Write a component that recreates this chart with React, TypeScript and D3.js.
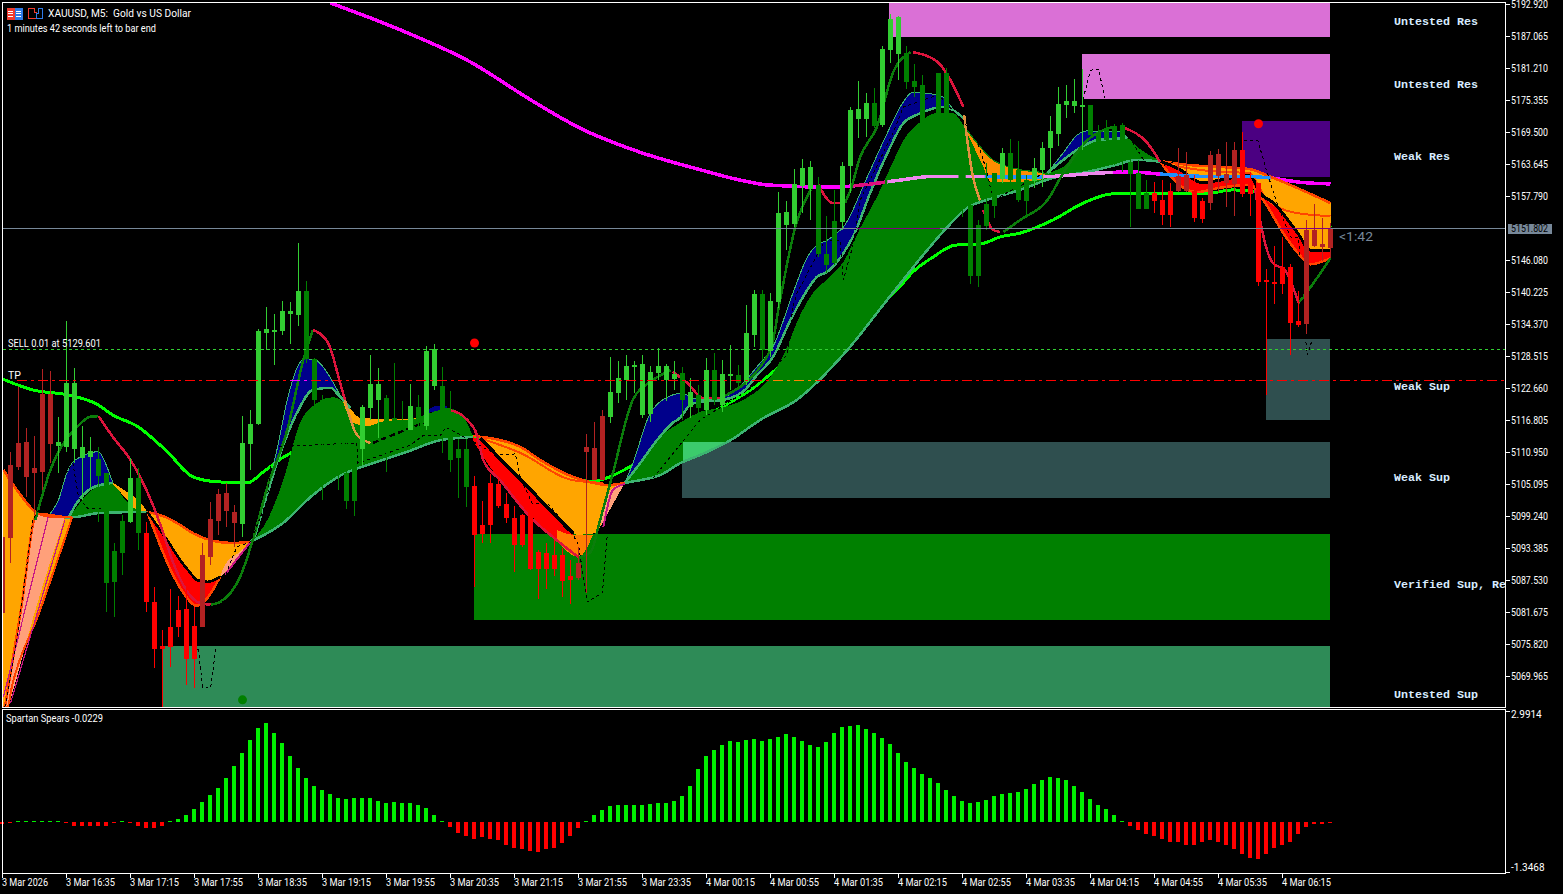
import React from "react";
import * as d3 from "d3";

type Knot = [number, number];

// ---------- axis labels ----------
const priceTicks = [5192.92, 5187.065, 5181.21, 5175.355, 5169.5, 5163.645, 5157.79, 5146.08, 5140.225, 5134.37, 5128.515, 5122.66, 5116.805, 5110.95, 5105.095, 5099.24, 5093.385, 5087.53, 5081.675, 5075.82, 5069.965];
const timeLabels = ["3 Mar 2026", "3 Mar 16:35", "3 Mar 17:15", "3 Mar 17:55", "3 Mar 18:35", "3 Mar 19:15", "3 Mar 19:55", "3 Mar 20:35", "3 Mar 21:15", "3 Mar 21:55", "3 Mar 23:35", "4 Mar 00:15", "4 Mar 00:55", "4 Mar 01:35", "4 Mar 02:15", "4 Mar 02:55", "4 Mar 03:35", "4 Mar 04:15", "4 Mar 04:55", "4 Mar 05:35", "4 Mar 06:15"];

// ---------- candles ----------
const candleHigh = [5096.7,5111.0,5122.8,5115.3,5113.9,5126.1,5125.8,5117.4,5134.9,5126.3,
5115.7,5113.7,5111.9,5107.1,5094.3,5099.4,5109.9,5108.0,5098.1,5086.3,
5078.4,5085.9,5084.6,5086.3,5082.6,5094.3,5101.8,5104.2,5105.3,5101.3,
5117.5,5118.6,5133.5,5137.5,5136.2,5138.6,5138.4,5149.2,5142.2,5128.2,
5121.4,5118.6,5115.9,5113.1,5113.1,5119.6,5128.7,5126.3,5121.4,5127.2,
5120.3,5123.4,5121.4,5130.3,5130.7,5126.5,5122.1,5113.3,5113.3,5106.6,
5102.0,5106.9,5106.2,5103.5,5101.1,5099.6,5100.7,5093.0,5094.3,5094.9,
5093.4,5091.2,5093.6,5114.2,5116.4,5118.6,5128.3,5127.6,5128.7,5127.6,
5128.7,5126.7,5130.0,5127.1,5127.6,5126.5,5124.5,5123.2,5128.2,5129.1,
5127.8,5130.5,5126.9,5137.8,5140.6,5140.6,5140.0,5158.5,5156.9,5162.7,
5164.6,5164.2,5161.3,5154.1,5158.9,5164.0,5174.1,5178.8,5176.6,5177.6,
5185.2,5191.1,5190.7,5185.2,5181.9,5179.9,5170.2,5180.3,5181.2,5170.8,
5170.8,5157.0,5153.4,5163.8,5162.0,5166.6,5168.2,5167.9,5161.6,5164.7,
5167.7,5172.4,5177.7,5178.1,5179.2,5181.0,5174.4,5170.8,5171.7,5171.0,
5171.1,5168.0,5164.4,5160.7,5160.4,5160.7,5160.2,5166.6,5165.8,5161.6,
5157.4,5166.0,5166.4,5167.7,5167.7,5169.5,5162.2,5160.2,5144.4,5148.6,
5150.3,5145.4,5140.4,5153.4,5156.3,5153.8,5152.9];
const candleLow = [5080.2,5090.6,5107.7,5102.7,5099.4,5104.0,5108.9,5107.1,5111.0,5108.9,
5102.2,5104.0,5098.1,5081.7,5080.8,5088.4,5098.0,5093.0,5081.7,5071.4,
5064.3,5071.6,5077.1,5068.3,5067.8,5078.9,5090.3,5095.8,5097.2,5093.6,
5095.4,5107.7,5115.9,5129.6,5126.9,5132.4,5130.7,5134.0,5127.2,5119.6,
5102.2,5107.7,5104.0,5100.5,5099.2,5108.6,5116.8,5113.5,5107.3,5116.3,
5115.9,5115.0,5115.0,5115.0,5122.3,5110.8,5107.3,5102.5,5100.9,5086.3,
5094.3,5094.3,5100.7,5098.0,5089.0,5093.6,5089.4,5084.1,5085.9,5088.3,
5084.4,5083.1,5087.5,5085.2,5105.8,5105.8,5116.3,5119.9,5120.5,5121.8,
5117.2,5116.5,5124.1,5120.3,5122.3,5116.8,5117.2,5117.7,5117.7,5119.6,
5118.3,5122.3,5122.3,5123.2,5130.2,5127.8,5128.3,5137.3,5147.9,5152.1,
5154.7,5153.4,5146.6,5143.7,5145.2,5151.6,5158.3,5168.4,5168.6,5170.2,
5170.4,5182.1,5179.0,5177.4,5175.9,5171.2,5166.2,5171.7,5172.1,5164.4,
5154.0,5141.7,5141.1,5151.6,5153.8,5160.2,5160.2,5156.7,5154.0,5159.3,
5159.4,5162.0,5166.9,5172.1,5173.0,5166.2,5169.0,5167.1,5168.0,5163.5,
5162.2,5152.1,5155.4,5155.4,5154.7,5152.5,5152.1,5158.5,5158.5,5153.0,
5152.9,5155.2,5158.5,5155.8,5154.1,5157.6,5154.1,5141.3,5121.4,5138.0,
5139.9,5128.7,5133.8,5132.5,5148.5,5145.9,5146.5];
const bodyHigh = [5095.4,5108.6,5112.6,5112.8,5108.0,5121.6,5121.6,5112.8,5123.6,5123.6,
5111.9,5111.1,5109.7,5107.1,5092.8,5098.3,5106.2,5106.2,5096.1,5083.5,
5075.5,5078.9,5082.0,5082.2,5079.1,5092.1,5098.7,5103.3,5103.5,5100.0,
5112.6,5116.1,5133.1,5133.5,5133.3,5136.8,5136.8,5140.4,5140.4,5128.0,
5120.5,5117.2,5115.0,5107.1,5108.2,5119.2,5123.4,5123.4,5120.8,5117.2,
5116.8,5119.4,5119.2,5129.4,5129.8,5123.0,5113.7,5111.5,5111.5,5104.7,
5097.6,5105.3,5105.1,5101.4,5098.9,5099.4,5099.8,5092.7,5092.5,5092.1,
5092.1,5088.3,5090.6,5111.9,5111.7,5117.5,5121.9,5124.5,5126.7,5126.9,
5127.1,5125.6,5126.7,5126.7,5125.2,5125.4,5121.9,5121.4,5126.0,5126.0,
5125.2,5125.2,5125.0,5132.7,5139.9,5139.9,5138.6,5154.7,5154.9,5160.0,
5162.9,5163.1,5159.8,5147.2,5153.2,5163.3,5173.5,5173.7,5174.8,5174.8,
5184.7,5190.2,5190.5,5184.0,5178.8,5178.1,5169.9,5180.3,5180.3,5169.9,
5166.2,5156.1,5152.5,5156.3,5162.0,5165.7,5165.7,5162.6,5160.7,5162.9,
5166.6,5169.7,5174.6,5175.2,5175.2,5174.4,5174.4,5169.3,5170.2,5170.6,
5170.8,5164.0,5162.0,5158.3,5158.3,5157.1,5158.7,5161.4,5161.6,5158.7,
5156.9,5165.3,5165.5,5161.8,5166.2,5166.2,5160.2,5160.2,5142.4,5142.1,
5144.8,5144.8,5134.9,5151.6,5151.6,5149.0,5151.8];
const bodyLow = [5081.5,5095.2,5108.2,5106.4,5107.1,5107.3,5112.4,5112.0,5111.9,5111.5,
5109.9,5110.0,5106.6,5087.0,5087.2,5092.5,5098.1,5096.1,5083.5,5074.9,
5074.9,5075.3,5078.9,5073.1,5073.1,5078.9,5091.7,5098.3,5100.2,5098.0,
5097.8,5112.4,5116.1,5132.7,5133.1,5133.1,5136.2,5136.0,5128.0,5120.5,
5116.8,5115.0,5112.2,5102.0,5102.0,5111.5,5119.0,5120.5,5116.3,5116.5,
5116.1,5115.0,5116.3,5115.7,5123.0,5115.9,5109.5,5109.9,5104.6,5095.8,
5096.0,5097.6,5101.1,5098.9,5093.9,5093.9,5089.5,5089.5,5089.5,5089.5,
5087.4,5087.5,5087.9,5111.0,5105.8,5105.8,5117.4,5121.8,5124.1,5126.5,
5117.7,5117.9,5125.4,5124.1,5124.3,5120.5,5119.2,5119.0,5118.6,5120.5,
5119.6,5124.9,5123.6,5123.8,5132.4,5129.6,5129.4,5138.4,5152.5,5152.7,
5159.6,5159.1,5147.2,5145.2,5145.5,5153.0,5163.3,5171.9,5171.9,5170.6,
5170.8,5184.5,5183.8,5178.7,5177.7,5171.3,5167.1,5172.1,5172.6,5166.2,
5158.9,5143.2,5143.2,5152.3,5156.0,5160.9,5160.7,5157.1,5156.9,5160.5,
5162.6,5166.6,5169.1,5174.4,5174.3,5174.1,5169.0,5167.5,5168.0,5168.0,
5168.0,5161.8,5155.4,5155.4,5156.9,5154.3,5154.3,5158.7,5158.7,5153.8,
5153.6,5156.5,5161.4,5160.2,5160.0,5158.2,5158.2,5142.1,5142.1,5141.9,
5141.7,5134.6,5134.2,5134.4,5148.6,5148.5,5148.3];
// L bull up, G bull down, R bear down, F bear up
const candleKinds = "FFFFFFF LLLLL GGGG L G RRRRRRR FFFFF LLLLLLLL GGGGGGG LLL GGG L G LL GGGG RRRRRRRRRRRRR FFFF LLLLLLLLL G L G L G LL G LL G LLLLLL GGG LLLL G LLL GGGGGGGGGGGG L GGG LLLLLLL GGGGGGGG RRR FF RR FFFF RRRRRRRR FFFF".replace(/ /g, "");

// ---------- Spartan Spears histogram ----------
const spears = [-0.03,-0.02,0.01,0.01,0.01,0.05,0.015,0.01,-0.02,-0.09,
-0.1,-0.1,-0.1,-0.1,-0.02,0.01,-0.02,-0.1,-0.16,-0.16,
-0.1,0.015,0.08,0.19,0.35,0.53,0.72,0.91,1.17,1.49,
1.86,2.18,2.5,2.64,2.37,2.1,1.78,1.46,1.17,0.96,
0.85,0.75,0.64,0.61,0.64,0.64,0.64,0.56,0.51,0.53,
0.51,0.51,0.45,0.37,0.21,0.02,-0.13,-0.27,-0.35,-0.43,
-0.4,-0.43,-0.48,-0.61,-0.69,-0.72,-0.77,-0.8,-0.72,-0.67,
-0.56,-0.37,-0.16,0.05,0.19,0.32,0.43,0.45,0.45,0.45,
0.45,0.48,0.51,0.51,0.56,0.69,0.98,1.41,1.76,1.92,
2.05,2.16,2.13,2.18,2.21,2.16,2.21,2.26,2.34,2.26,
2.16,2.05,2.0,2.13,2.37,2.53,2.56,2.58,2.48,2.37,
2.24,2.08,1.84,1.62,1.44,1.28,1.17,1.04,0.85,0.69,
0.56,0.51,0.53,0.59,0.69,0.75,0.77,0.8,0.88,1.01,
1.12,1.2,1.17,1.12,0.96,0.8,0.61,0.45,0.35,0.19,
0.02,-0.1,-0.21,-0.32,-0.37,-0.45,-0.51,-0.51,-0.59,-0.61,
-0.53,-0.48,-0.53,-0.61,-0.72,-0.83,-0.96,-0.98,-0.83,-0.67,
-0.61,-0.51,-0.32,-0.13,-0.03,-0.03,-0.0229];

// ---------- supply / demand zones: [startBar, top, bottom] ----------
const zoneOrchid1: number[] = [110.9, 5193.1, 5186.9];
const zoneOrchid2: number[] = [135, 5183.8, 5175.5];
const zoneIndigo: number[] = [155, 5171.5, 5161.3];
const zoneSlate1: number[] = [158, 5131.6, 5116.8];
const zoneSlate2: number[] = [85, 5112.8, 5102.5];
const zoneGreen: number[] = [59, 5096.0, 5080.2];
const zoneSea: number[] = [20, 5075.5, 5064.3];

const zoneLabels: [string, number][] = [
  ["Untested Res", 5189.8], ["Untested Res", 5178.3], ["Weak Res", 5165.1], ["Weak Sup", 5123.0],
  ["Weak Sup", 5106.4], ["Verified Sup, Re", 5086.8], ["Untested Sup", 5066.7],
];

// ---------- moving averages ----------
const maSlow: Knot[] = [[41,5193.1],[49.7,5188.2],[58.5,5182.3],[66,5175.4],[72.2,5170.2],[79.7,5165.8],[87.2,5162.6],[92.2,5160.7],[95.7,5159.8],[103.5,5159.4],[109.7,5160.2],[112.2,5160.7],[116.6,5161.4],[119.7,5161.4],[124.7,5161.3],[129.7,5161.3],[137.2,5162],[141,5162.2],[144.7,5161.8],[149.7,5161.4],[154.7,5161.4],[158.5,5161.1],[162.2,5160.3],[166,5160]];
const maMid: Knot[] = [[0,5124.3],[3.8,5122.3],[8.1,5121.4],[11.8,5119.7],[13.8,5117.7],[16.8,5115.7],[20.6,5111],[23.8,5106.4],[26.8,5105.5],[30.6,5105.3],[32.6,5107.3],[35.1,5110],[42.2,5113.1],[49.7,5112.2],[55.9,5113.7],[58.8,5113.7],[64.7,5110.4],[73.5,5105.6],[79.3,5108.9],[82.2,5111.3],[87.2,5116.8],[93.5,5122.3],[99.7,5129.6],[106,5135.1],[111.8,5140.6],[113.8,5143.9],[116.3,5146.6],[119.1,5148.8],[122.2,5149],[124.7,5150.3],[127.2,5151],[131.3,5153.4],[135.1,5156.5],[138.8,5158.2],[143.8,5158.3],[150.6,5158.3],[153.8,5158.9],[156.3,5158.7],[161,5155.2],[166.1,5152.1]];

// trend line pieces
const trendUp: Knot[][] = [
  [[4.1,5098.5],[6,5107.7],[9.3,5115.5],[11,5117.4],[12,5117.5]],
  [[26,5083],[27.2,5083.5],[29.7,5088.1],[31.3,5094.9],[33.1,5104.5],[35.6,5115],[37.6,5127.8],[38.8,5133.3]],
  [[72,5091.7],[73.5,5092.6],[74.7,5098.5],[76.3,5107.1],[78.8,5120.5],[81.3,5124.1],[83.5,5125.9]],
  [[89.7,5120.8],[96,5129.6],[97.2,5138.8],[99.1,5152.1],[101,5158.9]],
  [[105.3,5156.5],[106,5158.9],[107.2,5164.9],[109.3,5170.4],[111.3,5180.3],[113.5,5184.1]],
  [[125.1,5151.2],[127.2,5153.4],[130.6,5157],[132.6,5162],[135.6,5168],[138.8,5170.4]],
  [[162,5138.2],[163.5,5141.1],[166,5146.4]],
];
const trendDown: Knot[][] = [
  [[12,5117.5],[13.8,5113.7],[16,5109.5],[17.2,5106.4],[18.7,5101.6],[20.1,5096.1],[21.2,5091.2],[24.7,5083.3],[26,5083]],
  [[38.8,5133.3],[40.7,5130.9],[42.2,5123.6],[42.8,5120.5]],
  [[56,5118.6],[58.1,5116.8],[59.3,5114.1],[60.1,5109.5],[62.2,5105.8],[66,5099],[69.3,5094.8],[72,5091.7]],
  [[83.8,5125.6],[85.6,5123.6],[87.6,5120.8],[89.7,5120.8]],
  [[102,5159.8],[103.8,5156.5],[105.3,5156.5]],
  [[113.8,5184.1],[116.9,5182.3],[118.5,5179],[120.1,5174.1]],
  [[122.6,5155.2],[123.8,5151.6],[124.7,5151.2]],
  [[140.3,5170.2],[143.1,5167.5],[144.7,5164]],
  [[156.6,5158.9],[157.2,5153.4],[158.8,5145.5],[160.3,5144.2],[162,5138.2]],
];
const trendTan: Knot[][] = [
  [[42.8,5120.5],[44.3,5114.1],[46,5112.6]],
  [[120.2,5172.6],[121.3,5161.3],[122.2,5157]],
];
const blackDashes: Knot[] = [[46.3,5112.6],[52.6,5116.3]];

const zigzag: Knot[] = [[0.3,5064.3],[1.8,5076.6],[3.8,5098.5],[4.3,5099.8],[8.8,5108.9],[9.5,5102.7],[10.6,5100.7],[12.2,5100.7],[13.5,5099.4],[24.5,5074.7],[25,5067.9],[26,5067.7],[26.7,5075.3],[28.1,5089.3],[29.3,5093.6],[31,5094.5],[33.1,5102.2],[33.7,5111.9],[44.3,5112.6],[44.4,5108.9],[51,5112.2],[52.6,5114],[54.7,5113.9],[55.4,5115.5],[58.5,5113.1],[61.8,5110.4],[64.1,5110.6],[64.7,5106.4],[66.2,5101.6],[68.1,5101.6],[71,5096.7],[72,5093.9],[73.1,5083.5],[75,5085.2],[75.6,5095.8],[87.2,5116.8],[93.7,5122.7],[98.1,5128.7],[98.8,5137.5],[99.3,5140],[102.8,5149.7],[104.7,5149.7],[105.1,5142.4],[106.4,5149.2],[107.2,5157],[111.3,5169.3],[112.6,5174.1],[117,5176.3],[121.6,5168.9],[122.2,5166.2],[123.1,5162],[123.8,5157],[129.7,5161.6],[135.1,5175.7],[136,5180.8],[137,5181],[137.8,5175.7],[143.4,5162.6],[155,5168],[156.9,5168],[158.1,5162],[159.3,5156.5],[161,5150.3],[162,5150.1],[162.2,5146.1],[162.9,5131.4],[163.1,5128.7],[163.7,5131.4]];

// ---------- ribbon edges ----------
const orange1Top: Knot[] = [[0.1,5107.7],[1.8,5104],[4.3,5099.8],[5.7,5099.2],[8.7,5099]];
const orange1Bot: Knot[] = [[0.1,5064.3],[0.6,5064.3],[1.2,5068.2],[4.6,5081.6],[8.7,5099]];
const pink1Top: Knot[] = [[0.3,5064.3],[2.3,5082],[4.3,5099.6],[7.8,5099]];
const pink1Bot: Knot[] = [[0.3,5064.3],[0.7,5064.3],[1,5065.7],[4,5081.5],[7.8,5099]];
const navy1Top: Knot[] = [[5.7,5099.2],[7,5102.2],[8.1,5107.3],[8.8,5109.1],[9.7,5110],[11,5110.8],[12,5111],[12.8,5109.1],[13.8,5105.3]];
const navy1Bot: Knot[] = [[5.7,5099.2],[8.1,5099],[9.1,5101.2],[10.1,5103.1],[11.2,5104.4],[12.2,5104.9],[13.8,5105.3]];
const green1Top: Knot[] = [[8.1,5099],[9.1,5100.5],[10.1,5102.5],[11.2,5104],[12.2,5104.9],[13.8,5105.3],[15.3,5102.2],[16.6,5100.7],[18.1,5100]];
const green1Bot: Knot[] = [[8.1,5099],[8.7,5099],[12.2,5099.8],[18.1,5100]];
const orangeThinTop: Knot[] = [[13.8,5105.3],[15.6,5103.6],[17.2,5101.8],[18.1,5100]];
const orangeThinBot: Knot[] = [[13.8,5105],[15.6,5102.2],[16.6,5100.5],[18.1,5100]];
const orange2Top: Knot[] = [[18.1,5100],[20.6,5098.9],[22.2,5097.6],[23.8,5096.1],[26.3,5094.7],[28.7,5094.3],[31,5094.5]];
const orange2Bot: Knot[] = [[18.1,5100],[19.7,5096.7],[21,5093.9],[22.2,5091.2],[23.5,5088.8],[24.3,5087.7],[25.6,5087.4],[27.2,5088.1],[28.8,5091.2],[31,5094.5]];
const red2Top: Knot[] = [[18.1,5100],[19.7,5096.7],[21,5093.9],[22.2,5091.2],[23.5,5088.8],[24.3,5087.5],[25.6,5087.2],[27.2,5088.1]];
const red2Bot: Knot[] = [[18.1,5100],[19.3,5095.4],[21,5089.4],[22.6,5085.2],[24.3,5082.8],[25.7,5084.4],[27.2,5088.1]];
const pink2Top: Knot[] = [[27.2,5088.1],[27.8,5090.3],[29.7,5092.7],[31,5094.5]];
const pink2Bot: Knot[] = [[27.2,5088.1],[29.1,5090.8],[31,5094.5]];
const navy2Top: Knot[] = [[31,5094.5],[31.8,5097.2],[33.1,5104],[34.3,5111.3],[35.6,5120.5],[36.8,5126.3],[37.8,5128],[39.1,5127.8],[41,5124.5],[42.2,5121.4],[43.5,5119]];
const navy2Bot: Knot[] = [[31,5094.5],[31.3,5094.9],[32.6,5100.9],[34.3,5108.9],[36.8,5118.1],[38.8,5122.3],[41,5122.7],[42.2,5121],[43.5,5119]];
const green2Top: Knot[] = [[31,5094.5],[33.1,5098.5],[35.1,5105.8],[37.2,5116.3],[39.3,5119.9],[41.3,5121],[42.6,5120.1],[43.8,5117.4],[44.7,5117],[50.6,5117],[52.8,5117.7],[55.6,5119],[57.6,5117.4],[58.8,5113.7]];
const green2Bot: Knot[] = [[31,5094.5],[35.1,5098],[38.5,5102.7],[42.2,5106.6],[46.3,5108.9],[50.6,5111],[54.7,5113.1],[58.8,5113.7]];
const orangeBTop: Knot[] = [[42.6,5120.5],[43.8,5118.3],[44.7,5117.2],[47.8,5117],[50.6,5117],[52.2,5117.2]];
const orangeBBot: Knot[] = [[42.6,5120.1],[43.8,5116.3],[45.6,5115.7],[47.8,5116.6],[50.6,5116.8],[52.2,5117.2]];
const sliverTop: Knot[] = [[52.8,5117.9],[54,5119.3],[55.6,5119.4]];
const sliverBot: Knot[] = [[52.8,5117.9],[55.6,5119]];
const orange3Top: Knot[] = [[58.8,5113.9],[64.7,5111.9],[67.2,5109.5],[71.3,5106.4],[73.8,5105.3],[75.7,5104.9],[77.8,5105.3]];
const orange3Bot: Knot[] = [[58.8,5113.7],[59.7,5113.5],[62.6,5109.1],[65.5,5104.8],[68.4,5100.4],[71.3,5096.1],[71.8,5095.8],[74.1,5096.1],[74.7,5097.2],[76,5104],[77.8,5105.3]];
const red3Top: Knot[] = [[58.8,5113.7],[59.7,5113.1],[62.6,5108.9],[65.5,5104.5],[68.4,5100.1],[71.3,5095.8],[71.8,5095.4]];
const red3Bot: Knot[] = [[58.8,5113.1],[60.6,5108.9],[62.2,5105.8],[66,5099.4],[69.3,5094.8],[72,5091.7]];
const wedgeTop: Knot[] = [[69.3,5096.7],[71.3,5095.8],[73.8,5095.8]];
const wedgeBot: Knot[] = [[69.3,5094.8],[72,5091.7],[73.8,5095.8]];
const pink3Top: Knot[] = [[74.7,5097.2],[76,5104],[77.8,5105.3]];
const pink3Bot: Knot[] = [[74.7,5097.2],[77.8,5105.3]];
const navy3Top: Knot[] = [[77.8,5105.3],[78.8,5108.9],[81,5118.1],[83.8,5121.4],[84.7,5121.7],[87.2,5120.5],[90.1,5121],[94.7,5127.2],[96.3,5130.2],[98.8,5140],[100.6,5146.6],[101.8,5148.8],[103.1,5149.7],[104.3,5151],[105.1,5152.1],[108.1,5161.3],[110.6,5169.3],[112.6,5175],[113.8,5176.8],[115.1,5176.6],[116.8,5176.3],[117.6,5175.9],[118.7,5173.9],[120.4,5171.7]];
const navy3Bot: Knot[] = [[77.8,5105.3],[79.7,5108.9],[81.8,5113.1],[83.8,5116.3],[84.7,5117.2],[86,5119.6],[87.2,5120.1],[90.1,5120.5],[92.8,5122.3],[94.3,5125],[96.3,5128.3],[98.5,5135.1],[100.6,5140.6],[101.8,5143],[103.1,5143.9],[105.1,5147.3],[106.4,5150.6],[108.5,5158.5],[110.6,5165.6],[112.6,5171.1],[114.7,5172.9],[117.6,5174.1],[120.4,5171.7]];
const green3Top: Knot[] = [[77.8,5105.3],[80.6,5110.8],[82.2,5113.7],[84.7,5116.3],[87.2,5118.3],[89.7,5119],[92.6,5120.5],[96,5124.7],[98.1,5130.2],[99.3,5134.7],[101.3,5140],[103.1,5142.6],[105.1,5145.7],[107.2,5151.9],[109.3,5157.6],[111.3,5164],[112.8,5168.4],[114.3,5170.8],[116.8,5173],[118.8,5173],[120.1,5170.8],[121.8,5167.5],[123.8,5164.4],[127.2,5162.6],[130.1,5162],[132.6,5163.1],[135.1,5167.5],[136.8,5168],[138.8,5168.4],[140.6,5168.4],[141.8,5166.8],[143.8,5164.9],[145.1,5164]];
const green3Bot: Knot[] = [[77.8,5105.3],[79.7,5105.8],[82.2,5106.7],[84.7,5108.9],[87.2,5110.4],[91,5113.1],[94.7,5116.8],[99.3,5120.5],[105.6,5129.6],[110.6,5138.8],[115.6,5147.9],[118.1,5152.1],[120.6,5155.6],[123.8,5157.4],[127.2,5158.9],[131.3,5161.1],[135.6,5162.2],[138.8,5163.3],[141.8,5164.4],[145.1,5164]];
const overlapTop: Knot[] = [[85,5112.8],[91,5112.8]];
const overlapBot: Knot[] = [[85,5109],[87.2,5110.4],[91,5112.8]];
const orange4Top: Knot[] = [[120.1,5170.8],[121.8,5167.5],[123.8,5164.4],[127.2,5162.6],[130.1,5162],[130.6,5161.6]];
const orange4Bot: Knot[] = [[120.1,5170.8],[122.6,5163.1],[123.5,5160.3],[126,5160.3],[129.7,5160.7],[130.6,5161.6]];
const navy4Top: Knot[] = [[130.6,5162],[132.6,5165.7],[134.3,5168.9],[135.6,5169.7],[139.7,5169.5],[140.6,5168.4]];
const navy4Bot: Knot[] = [[130.6,5162],[132.6,5164.4],[134.7,5166.6],[136.8,5168],[140.6,5168.4]];
const orange5Top: Knot[] = [[144.7,5164.2],[148.1,5163.5],[152.2,5163.1],[155.9,5162.7],[158.5,5161.3],[166,5156.5]];
const orange5Bot: Knot[] = [[144.7,5164.2],[147.2,5162.6],[150,5160.2],[152.2,5160.7],[155.9,5161.6],[157.2,5158.3],[158.9,5156.5],[161.9,5151],[163.5,5147.9],[166,5147.9]];
const red5Bot: Knot[] = [[144.7,5164.2],[146.8,5160.2],[149.3,5158.5],[152.2,5159.3],[155.9,5159.8],[157.6,5157],[160.1,5151],[161.9,5147.4],[163.5,5145.3],[166,5146.4]];
const midLine3: Knot[] = [[59.7,5113.5],[64.7,5110.8],[71.3,5105.8],[75.1,5105.3]];
const midLine5: Knot[] = [[144.7,5163.8],[150,5162.5],[155.9,5161.9],[157.9,5157.4],[161.3,5154.8],[166,5154.1]];
const violet1: Knot[] = [[0.1,5066.1],[5.7,5099]];
const violet2: Knot[] = [[1,5065],[7.8,5098.5]];
const violet3: Knot[] = [[27.8,5088.5],[31,5094.5]];
const violet4: Knot[] = [[75.1,5097.2],[76.3,5104],[77.8,5105.1]];

const bands: [Knot[], Knot[], string][] = [
  [orange1Top, orange1Bot, "#FFA500"], [pink1Top, pink1Bot, "#FFA07A"],
  [green1Top, green1Bot, "#008000"], [navy1Top, navy1Bot, "#00008B"], [orangeThinTop, orangeThinBot, "#FFA500"],
  [orange2Top, orange2Bot, "#FFA500"], [red2Top, red2Bot, "#FF0000"], [pink2Top, pink2Bot, "#FFA07A"],
  [green2Top, green2Bot, "#008000"], [navy2Top, navy2Bot, "#00008B"], [orangeBTop, orangeBBot, "#FFA500"], [sliverTop, sliverBot, "#00008B"],
  [orange3Top, orange3Bot, "#FFA500"], [red3Top, red3Bot, "#FF0000"], [wedgeTop, wedgeBot, "#FF8000"], [pink3Top, pink3Bot, "#FFA07A"],
  [green3Top, green3Bot, "#008000"], [overlapTop, overlapBot, "#3CCB6C"], [navy3Top, navy3Bot, "#00008B"],
  [orange4Top, orange4Bot, "#FF8C00"], [navy4Top, navy4Bot, "#00008B"],
  [orange5Top, orange5Bot, "#FFA500"], [orange5Bot, red5Bot, "#FF0000"],
];

const strokes: [Knot[], string, number][] = [
  [navy1Bot, "#3CB371", 2.5], [green1Bot, "#3CB371", 2.5], [navy2Bot, "#3CB371", 2.5], [green2Bot, "#3CB371", 2.5], [navy3Bot, "#3CB371", 2.5], [green3Bot, "#3CB371", 2.5], [navy4Bot, "#3CB371", 2.5],
  [navy1Top, "#3CB371", 1], [navy2Top, "#3CB371", 1], [navy3Top, "#3CB371", 1], [navy4Top, "#3CB371", 1],
  [orange1Top, "#FF4500", 2.5], [orange2Top, "#FF4500", 2.5], [orange3Top, "#FF4500", 2.5], [orange5Top, "#FF4500", 2.5], [red2Bot, "#FF4500", 2.5], [red5Bot, "#FF4500", 2.5], [orange1Bot, "#FF4500", 2], [pink1Top, "#FF4500", 2.5],
  [midLine3, "#FF4500", 2], [midLine5, "#FF4500", 2],
  [violet1, "#C71585", 1.2], [violet2, "#C71585", 1.2], [violet3, "#C71585", 2], [violet4, "#C71585", 2],
  [red2Top, "#000000", 2.5], [orange3Bot.slice(1, 6), "#000000", 3.5], [orange5Bot, "#000000", 3],
  [orange4Top, "#0B7D0B", 1.2],
];

// [fromBar, toBar, colour] : how the lines tint where they cross the ribbon
const maTint: [number, number, string][] = [[106, 110.3, "#E0107F"], [110.6, 119.5, "#EE88EE"], [120.4, 122.8, "#EE88EE"], [122.8, 130.1, "#1E90FF"], [130.1, 138.8, "#EE88EE"], [144.7, 158.5, "#1E90FF"]];
const bidTint: [number, number, string][] = [[106.8, 117.2, "#800080"], [159.7, 166, "#800080"]];
const tpTint: [number, number, string][] = [[96, 101.8, "#FF8000"], [35.6, 38.5, "#FF00FF"]];

const dots: [number, number, string][] = [[59, 5130.9, "#FF0000"], [157, 5171.0, "#FF0000"], [30, 5065.6, "#008000"]];

const bidPrice = 5151.802;
const sellPrice = 5129.601;
const tpPrice = 5124.03;

// ---------- scales ----------
const barX = d3.scaleLinear().domain([0, 166]).range([2.5, 1330.5]);
const yMain = d3.scaleLinear().domain([5122.66, 5192.92]).range([388, 4]);
const ySub = d3.scaleLinear().domain([-1.3468, 2.9914]).range([873, 710]);
const line = d3.line<Knot>().x((d) => barX(d[0])).y((d) => yMain(d[1])).curve(d3.curveMonotoneX);
const straight = d3.line<Knot>().x((d) => barX(d[0])).y((d) => yMain(d[1]));
const bandPath = (top: Knot[], bot: Knot[]) =>
  (line(top) as string) + "L" + (line([...bot].reverse()) as string).slice(1) + "Z";

const UI = "Roboto, 'Liberation Sans', sans-serif";
const CANDLE: Record<string, string> = { L: "#32CD32", G: "#008000", R: "#FF0000", F: "#B22222" };

function zoneRect(z: number[], fill: string) {
  const x0 = Math.floor(barX(z[0]));
  const x1 = Math.floor(barX(166));
  const y0 = Math.round(yMain(z[1]));
  const y1 = Math.round(yMain(z[2]));
  return <rect key={fill + z[0]} x={x0} y={y0} width={x1 - x0} height={y1 - y0} fill={fill} />;
}

export default function App() {
  const maPath = line(maSlow) as string;
  const sellY = Math.floor(yMain(sellPrice)) - 0.5;
  const tpY = Math.floor(yMain(tpPrice)) + 0.5;
  const bidY = Math.floor(yMain(bidPrice)) + 0.5;
  const tintClip = (id: string, t: [number, number, string]) => (
    <clipPath id={id} key={id}>
      <rect x={barX(t[0])} y={0} width={barX(t[1]) - barX(t[0])} height={710} />
    </clipPath>
  );
  return (
    <svg width={1563} height={894} style={{ position: "fixed", left: 0, top: 0, background: "#000" }} shapeRendering="crispEdges">
      <defs>
        <clipPath id="main"><rect x={3} y={3} width={1502} height={704} /></clipPath>
        {maTint.map((t, i) => tintClip("ma" + i, t))}
        {bidTint.map((t, i) => tintClip("bid" + i, t))}
        {tpTint.map((t, i) => tintClip("tp" + i, t))}
      </defs>

      <g clipPath="url(#main)">
        {zoneRect(zoneOrchid1, "#DA70D6")}
        {zoneRect(zoneOrchid2, "#DA70D6")}
        {zoneRect(zoneIndigo, "#4B0082")}
        {zoneRect(zoneSlate1, "#2F4F4F")}
        {zoneRect(zoneSlate2, "#2F4F4F")}
        {zoneRect(zoneGreen, "#008000")}
        {zoneRect(zoneSea, "#2E8B57")}

        <path d={maPath} fill="none" stroke="#FF00FF" strokeWidth={3.5} />
        <path d={line(maMid) as string} fill="none" stroke="#00FF00" strokeWidth={3} />

        {bands.map((b, i) => <path key={i} d={bandPath(b[0], b[1])} fill={b[2]} />)}
        {strokes.map((s, i) => <path key={i} d={line(s[0]) as string} fill="none" stroke={s[1]} strokeWidth={s[2]} />)}

        {maTint.map((t, i) => (
          <path key={i} d={maPath} fill="none" stroke={t[2]} strokeWidth={3.5} clipPath={`url(#ma${i})`} />
        ))}

        {trendUp.map((s, i) => <path key={i} d={line(s) as string} fill="none" stroke="#0B7D0B" strokeWidth={2.5} />)}
        {trendDown.map((s, i) => <path key={i} d={line(s) as string} fill="none" stroke="#DC143C" strokeWidth={2.5} />)}
        {trendTan.map((s, i) => <path key={i} d={line(s) as string} fill="none" stroke="#E09040" strokeWidth={2.5} />)}
        <path d={straight(blackDashes) as string} fill="none" stroke="#000" strokeWidth={2.5} strokeDasharray="6 3" />
        <path d={straight(zigzag) as string} fill="none" stroke="#000" strokeWidth={1} strokeDasharray="3 3" />

        {candleKinds.split("").map((k, i) => {
          const c = CANDLE[k];
          const x = Math.floor(barX(i));
          const hi = Math.round(yMain(candleHigh[i]));
          const lo = Math.round(yMain(candleLow[i]));
          const top = Math.round(yMain(bodyHigh[i]));
          const bot = Math.round(yMain(bodyLow[i]));
          return (
            <g key={i} fill={c}>
              <rect x={x} y={hi} width={1} height={Math.max(1, lo - hi)} />
              <rect x={x - 2} y={top} width={5} height={Math.max(2, bot - top)} />
            </g>
          );
        })}

        <path d={`M3,${sellY}H1505`} stroke="#32CD32" strokeDasharray="3 3" fill="none" />
        <path d={`M17,${tpY}H1505`} stroke="#FF0000" strokeDasharray="10 4 3 4" fill="none" />
        {tpTint.map((t, i) => (
          <path key={i} d={`M17,${tpY}H1505`} stroke={t[2]} strokeDasharray="10 4 3 4" fill="none" clipPath={`url(#tp${i})`} />
        ))}
        <path d={`M3,${bidY}H1505`} stroke="#778899" fill="none" />
        {bidTint.map((t, i) => (
          <path key={i} d={`M3,${bidY}H1505`} stroke={t[2]} fill="none" clipPath={`url(#bid${i})`} />
        ))}

        {dots.map((d, i) => (
          <circle key={i} cx={barX(d[0])} cy={yMain(d[1])} r={4.5} fill={d[2]} shapeRendering="auto" />
        ))}

        {zoneLabels.map((l, i) => (
          <text key={i} x={1394} y={yMain(l[1]) + 1} dominantBaseline="middle" fontFamily="'Liberation Mono', monospace" fontWeight="bold" fontSize={11.67} fill="#D8ECFF">{l[0]}</text>
        ))}
      </g>

      {/* Spartan Spears pane */}
      {spears.map((v, i) => {
        const x = Math.floor(barX(i)) - 2;
        const zero = 822;
        const y = Math.round(ySub(v));
        return v >= 0
          ? <rect key={i} x={x} y={Math.min(y, zero - 1)} width={4} height={Math.max(1, zero - y)} fill="#00F000" />
          : <rect key={i} x={x} y={zero} width={4} height={Math.max(1, y - zero)} fill="#FF0000" />;
      })}

      {/* frames */}
      <g fill="none" stroke="#FFFFFF" strokeWidth={1}>
        <path d="M2.5,2.5H1505.5V707.5H2.5Z" />
        <path d="M2.5,709.5H1505.5V873.5H2.5Z" />
      </g>

      {/* right axis */}
      {priceTicks.map((p, i) => {
        const y = Math.round(yMain(p));
        return (
          <g key={i}>
            <rect x={1505} y={y} width={5} height={1} fill="#fff" />
            <text x={1511} y={y + 1.5} dominantBaseline="middle" fontFamily={UI} fontSize={10} fill="#fff" textLength={37} lengthAdjust="spacingAndGlyphs">{p.toFixed(3)}</text>
          </g>
        );
      })}
      <rect x={1508} y={224} width={44} height={10} fill="#778899" />
      <text x={1511} y={229.5} dominantBaseline="middle" fontFamily={UI} fontSize={10} fill="#000" textLength={37} lengthAdjust="spacingAndGlyphs">{bidPrice.toFixed(3)}</text>
      <rect x={1505} y={711} width={5} height={1} fill="#fff" />
      <rect x={1505} y={872} width={5} height={1} fill="#fff" />
      <text x={1511} y={715.5} dominantBaseline="middle" fontFamily={UI} fontSize={10} fill="#fff">2.9914</text>
      <text x={1511} y={868} dominantBaseline="middle" fontFamily={UI} fontSize={10} fill="#fff">-1.3468</text>

      {/* bottom axis */}
      {timeLabels.map((t, i) => {
        const x = Math.floor(barX(i * 8));
        return (
          <g key={t}>
            <rect x={x} y={873} width={1} height={5} fill="#fff" />
            <text x={x} y={883.5} dominantBaseline="middle" fontFamily={UI} fontSize={10} fill="#fff" textLength={i === 0 ? 46 : 49} lengthAdjust="spacingAndGlyphs">{t}</text>
          </g>
        );
      })}

      {/* overlay texts */}
      <g>
        <rect x={7} y={8} width={7} height={11} fill="#F03A2E" stroke="#F03A2E" />
        <path d="M8,11h5M8,13.5h5M8,16h5" stroke="#FFFFFF" fill="none" />
        <rect x={15} y={8} width={7} height={11} fill="#2E7BE8" stroke="#2E7BE8" />
        <path d="M16,11h5M16,13.5h5M16,16h5" stroke="#FFFFFF" fill="none" />
        <path d="M28.5,8.5h6v4h2v6h-8Z" fill="none" stroke="#F03A2E" strokeWidth={1.5} />
        <path d="M38.5,8.5h4v10h-6v-5h2Z" fill="none" stroke="#2E7BE8" strokeWidth={1.5} />
      </g>
      <text x={48} y={14.5} dominantBaseline="middle" fontFamily={UI} fontSize={10.5} fill="#fff" textLength={143} lengthAdjust="spacingAndGlyphs" style={{ whiteSpace: "pre" }}>{"XAUUSD, M5:  Gold vs US Dollar"}</text>
      <text x={7} y={29.5} dominantBaseline="middle" fontFamily={UI} fontSize={10.5} fill="#fff" textLength={149} lengthAdjust="spacingAndGlyphs">1 minutes 42 seconds left to bar end</text>
      <text x={8} y={344.5} dominantBaseline="middle" fontFamily={UI} fontSize={10.5} fill="#fff" textLength={93} lengthAdjust="spacingAndGlyphs">SELL 0.01 at 5129.601</text>
      <text x={8} y={376} dominantBaseline="middle" fontFamily={UI} fontSize={10.5} fill="#fff">TP</text>
      <text x={6} y={719.5} dominantBaseline="middle" fontFamily={UI} fontSize={10.5} fill="#fff" textLength={97} lengthAdjust="spacingAndGlyphs">Spartan Spears -0.0229</text>
      <text x={1339} y={237.5} dominantBaseline="middle" fontFamily={UI} fontSize={13} fill="#778899" textLength={34} lengthAdjust="spacingAndGlyphs">{"<1:42"}</text>
    </svg>
  );
}
